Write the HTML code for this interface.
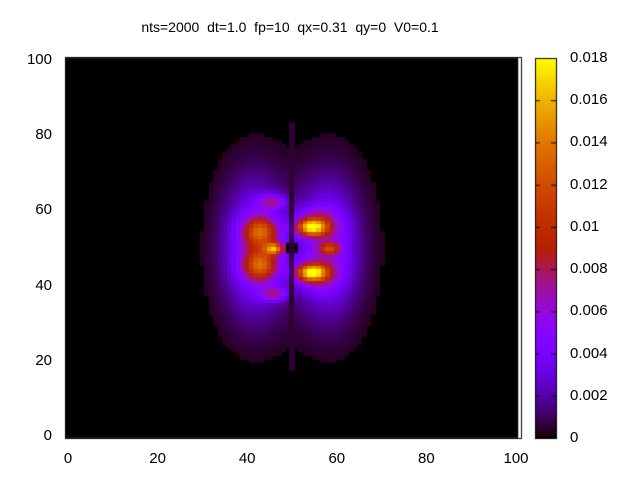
<!DOCTYPE html>
<html><head><meta charset="utf-8">
<style>
body{margin:0;background:#fff;width:640px;height:480px;overflow:hidden;font-family:"Liberation Sans",sans-serif;}
#root{position:relative;width:640px;height:480px;}
.t{position:absolute;font-size:15px;color:#000;white-space:nowrap;}
</style></head>
<body>
<div id="root">
<div class="t" style="left:0;width:580px;top:19px;text-align:center;font-size:14px;">nts=2000&nbsp; dt=1.0&nbsp; fp=10&nbsp; qx=0.31&nbsp; qy=0&nbsp; V0=0.1</div>
<canvas id="hm" width="640" height="480" style="position:absolute;left:0;top:0"></canvas>
</div>
<script>
// axis ticks
const xTicks=[0,20,40,60,80,100];
const yTicks=[0,20,40,60,80,100];
const cbTicks=[0,0.002,0.004,0.006,0.008,0.01,0.012,0.014,0.016,0.018];
const cbLabels=["0","0.002","0.004","0.006","0.008","0.01","0.012","0.014","0.016","0.018"];
// blobs: centers x, y, widths, amplitudes
const blobX=[54.4,54.4,46.2,43.2,43.2,58.5,45.8,46.2,42,58,41,59,55.5,55.5];
const blobY=[55.7,43.7,50,54.5,45.5,50,62.5,38,50,50,50,50,57,43];
const blobRX=[2.3,2.3,1.4,2.6,2.6,1.6,2,2,4.5,4.5,6.5,6.5,3.2,3.2];
const blobRY=[1.5,1.5,1.1,2.8,2.8,1.1,1.3,1.3,11,11,18,18,2.6,2.6];
const blobAmp=[0.0115,0.0115,0.010,0.0085,0.0085,0.0065,0.005,0.005,0.0045,0.0045,0.0012,0.0012,0.0045,0.0045];
const vMax=0.018;

const X0=68,X1=516,Y0=436,Y1=60;
function sx(v){return X0+(v-0)*(X1-X0)/100;}
function sy(v){return Y0-(v-0)*(Y0-Y1)/100;}
function pal(g){g=Math.max(0,Math.min(1,g));
 return [Math.round(255*Math.sqrt(g)),Math.round(255*g*g*g),Math.round(255*Math.max(0,Math.sin(2*Math.PI*g)))];}

const c=document.getElementById('hm').getContext('2d');
c.fillStyle='#000';c.fillRect(sx(-0.5),sy(100.5),sx(100.5)-sx(-0.5),sy(-0.5)-sy(100.5));
for(let i=0;i<=100;i++){for(let j=0;j<=100;j++){
 let v=0;
 for(let k=0;k<blobX.length;k++){const dx=(i-blobX[k])/blobRX[k],dy=(j-blobY[k])/blobRY[k];v+=blobAmp[k]*Math.exp(-0.5*(dx*dx+dy*dy));}
 if(i===50)v*=0.25;
 if(Math.abs(i-50)<=1&&Math.abs(j-50)<=1)v=0;
 if(v<0.0004)v=(i===50&&j>17&&j<84)?0.0006:0;
 if(v<=0)continue;
 const col=pal(v/vMax);
 c.fillStyle='rgb('+col.join(',')+')';
 const x=sx(i-0.5),y=sy(j+0.5);
 c.fillRect(Math.floor(x),Math.floor(y),Math.ceil(sx(i+0.5)-x)+1,Math.ceil(sy(j-0.5)-y)+1);
}}
c.strokeStyle='#000';c.lineWidth=1;
c.strokeRect(65.5,57.5,456,381);
const CX=535,CW=21,CT=58,CB=438;
for(let p=CT;p<CB;p++){const col=pal((CB-p)/(CB-CT));c.fillStyle='rgb('+col.join(',')+')';c.fillRect(CX,p,CW,1);}
c.strokeRect(CX+0.5,CT+0.5,CW,CB-CT);
const root=document.getElementById('root');
function lab(txt,x,y,align,name){const d=document.createElement('div');d.className='t';d.textContent=txt;
 
 
 d.style.top=(y-9)+'px';
 if(align==='c'){d.style.left=(x-30)+'px';d.style.width='60px';d.style.textAlign='center';}
 else if(align==='r'){d.style.left=(x-60)+'px';d.style.width='60px';d.style.textAlign='right';}
 else d.style.left=x+'px';
 root.appendChild(d);}
xTicks.forEach(t=>lab(String(t),sx(t),459,'c','x-tick-label'));
yTicks.forEach(t=>lab(String(t),52,sy(t),'r','y-tick-label'));
cbTicks.forEach((t,i)=>{const y=CB-(t/vMax)*(CB-CT);
 c.beginPath();c.moveTo(CX,y+0.5);c.lineTo(CX+5,y+0.5);c.moveTo(CX+CW,y+0.5);c.lineTo(CX+CW-5,y+0.5);c.stroke();
 lab(cbLabels[i],570,y,'l','colorbar-tick-label');});
</script>
</body></html>
